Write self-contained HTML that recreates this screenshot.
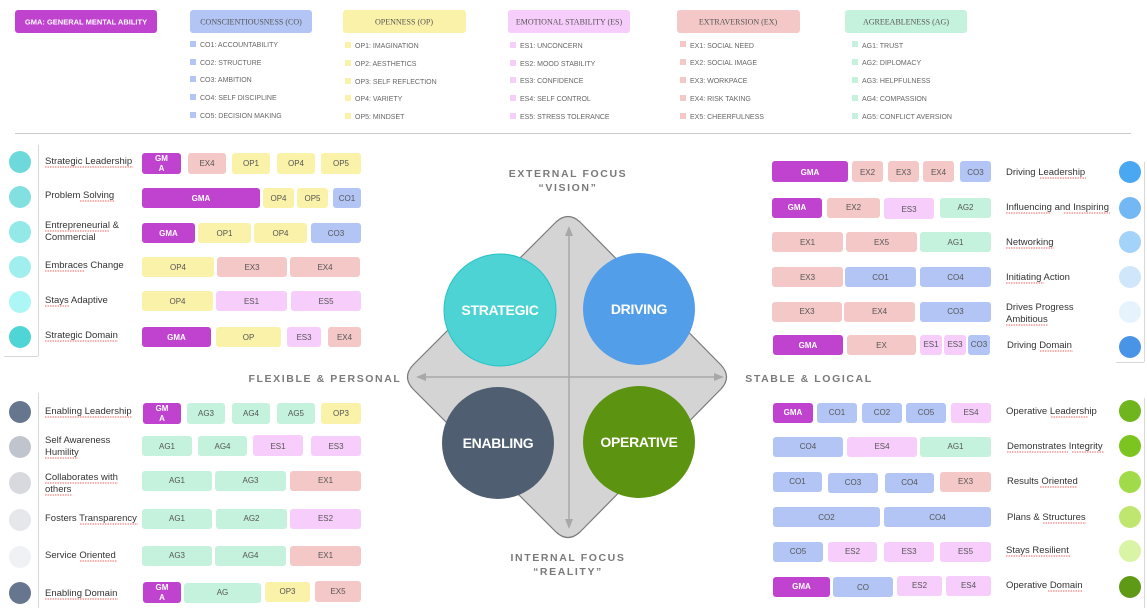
<!DOCTYPE html>
<html><head><meta charset="utf-8"><style>
html,body{margin:0;padding:0;background:#fff;}
svg{display:block;font-family:"Liberation Sans",Arial,sans-serif;}
.p{font-size:8px;fill:#555;text-anchor:middle;}
.g{font-size:8px;fill:#fff;text-anchor:middle;font-weight:bold;}
.lb{font-size:9.5px;fill:#333;}
.lg{font-size:7px;fill:#666;}
.hd{font-family:"Liberation Serif",serif;font-size:8px;fill:#555;text-anchor:middle;}
.ax{font-size:10.5px;fill:#7a7a7a;font-weight:bold;letter-spacing:1.6px;text-anchor:middle;}
.ct{font-size:14px;fill:#fff;font-weight:bold;text-anchor:middle;letter-spacing:-0.3px;}
.u{stroke:#e33;stroke-width:0.8;stroke-dasharray:1.5 1;fill:none;}
</style></head><body>
<svg width="1147" height="612" viewBox="0 0 1147 612">
<rect x="15" y="10" width="142" height="23" rx="3" fill="#c043d0"/><text x="86" y="24.5" class="g" style="font-size:7.5px">GMA:  GENERAL  MENTAL ABILITY</text>
<rect x="190" y="10" width="122" height="23" rx="3" fill="#b3c5f5"/><text x="251" y="24.5" class="hd">CONSCIENTIOUSNESS (CO)</text>
<rect x="343" y="10" width="123" height="23" rx="3" fill="#faf2a8"/><text x="404" y="24.5" class="hd">OPENNESS (OP)</text>
<rect x="508" y="10" width="122" height="23" rx="3" fill="#f7cdfb"/><text x="569" y="24.5" class="hd">EMOTIONAL STABILITY (ES)</text>
<rect x="677" y="10" width="123" height="23" rx="3" fill="#f5c8c8"/><text x="738" y="24.5" class="hd">EXTRAVERSION (EX)</text>
<rect x="845" y="10" width="122" height="23" rx="3" fill="#c5f2dc"/><text x="906" y="24.5" class="hd">AGREEABLENESS (AG)</text>
<g>
<rect x="190" y="41" width="6" height="6" fill="#b3c5f5"/><text x="200" y="47" class="lg">CO1: ACCOUNTABILITY</text>
<rect x="190" y="59" width="6" height="6" fill="#b3c5f5"/><text x="200" y="65" class="lg">CO2: STRUCTURE</text>
<rect x="190" y="76" width="6" height="6" fill="#b3c5f5"/><text x="200" y="82" class="lg">CO3: AMBITION</text>
<rect x="190" y="94" width="6" height="6" fill="#b3c5f5"/><text x="200" y="100" class="lg">CO4: SELF DISCIPLINE</text>
<rect x="190" y="112" width="6" height="6" fill="#b3c5f5"/><text x="200" y="118" class="lg">CO5: DECISION MAKING</text>
<rect x="345" y="42" width="6" height="6" fill="#faf2a8"/><text x="355" y="48" class="lg">OP1: IMAGINATION</text>
<rect x="345" y="60" width="6" height="6" fill="#faf2a8"/><text x="355" y="66" class="lg">OP2: AESTHETICS</text>
<rect x="345" y="78" width="6" height="6" fill="#faf2a8"/><text x="355" y="84" class="lg">OP3: SELF REFLECTION</text>
<rect x="345" y="95" width="6" height="6" fill="#faf2a8"/><text x="355" y="101" class="lg">OP4: VARIETY</text>
<rect x="345" y="113" width="6" height="6" fill="#faf2a8"/><text x="355" y="119" class="lg">OP5: MINDSET</text>
<rect x="510" y="42" width="6" height="6" fill="#f7cdfb"/><text x="520" y="48" class="lg">ES1: UNCONCERN</text>
<rect x="510" y="60" width="6" height="6" fill="#f7cdfb"/><text x="520" y="66" class="lg">ES2: MOOD STABILITY</text>
<rect x="510" y="77" width="6" height="6" fill="#f7cdfb"/><text x="520" y="83" class="lg">ES3: CONFIDENCE</text>
<rect x="510" y="95" width="6" height="6" fill="#f7cdfb"/><text x="520" y="101" class="lg">ES4: SELF CONTROL</text>
<rect x="510" y="113" width="6" height="6" fill="#f7cdfb"/><text x="520" y="119" class="lg">ES5: STRESS TOLERANCE</text>
<rect x="680" y="41" width="6" height="6" fill="#f5c8c8"/><text x="690" y="48" class="lg">EX1: SOCIAL NEED</text>
<rect x="680" y="59" width="6" height="6" fill="#f5c8c8"/><text x="690" y="65" class="lg">EX2: SOCIAL IMAGE</text>
<rect x="680" y="77" width="6" height="6" fill="#f5c8c8"/><text x="690" y="83" class="lg">EX3: WORKPACE</text>
<rect x="680" y="95" width="6" height="6" fill="#f5c8c8"/><text x="690" y="101" class="lg">EX4: RISK TAKING</text>
<rect x="680" y="113" width="6" height="6" fill="#f5c8c8"/><text x="690" y="119" class="lg">EX5: CHEERFULNESS</text>
<rect x="852" y="41" width="6" height="6" fill="#c5f2dc"/><text x="862" y="48" class="lg">AG1: TRUST</text>
<rect x="852" y="59" width="6" height="6" fill="#c5f2dc"/><text x="862" y="65" class="lg">AG2: DIPLOMACY</text>
<rect x="852" y="77" width="6" height="6" fill="#c5f2dc"/><text x="862" y="83" class="lg">AG3: HELPFULNESS</text>
<rect x="852" y="95" width="6" height="6" fill="#c5f2dc"/><text x="862" y="101" class="lg">AG4: COMPASSION</text>
<rect x="852" y="113" width="6" height="6" fill="#c5f2dc"/><text x="862" y="119" class="lg">AG5: CONFLICT AVERSION</text>
</g>
<line x1="15" y1="133.5" x2="1131" y2="133.5" stroke="#ccc" stroke-width="1"/>

<line x1="38.5" y1="145" x2="38.5" y2="356" stroke="#d8d8d8"/>
<line x1="4" y1="356.5" x2="38" y2="356.5" stroke="#d8d8d8"/>
<line x1="38.5" y1="393" x2="38.5" y2="608" stroke="#d8d8d8"/>
<line x1="1144.5" y1="162" x2="1144.5" y2="362" stroke="#d8d8d8"/>
<line x1="1116" y1="362.5" x2="1144" y2="362.5" stroke="#d8d8d8"/>
<line x1="1144.5" y1="398" x2="1144.5" y2="608" stroke="#d8d8d8"/>

<circle cx="20" cy="162" r="11" fill="#6dd9da"/>
<circle cx="20" cy="197" r="11" fill="#82e0e0"/>
<circle cx="20" cy="232" r="11" fill="#93e8e8"/>
<circle cx="20" cy="267" r="11" fill="#a0eeee"/>
<circle cx="20" cy="302" r="11" fill="#acf6f6"/>
<circle cx="20" cy="337" r="11" fill="#4fd5d5"/>
<text x="45" y="164" class="lb">Strategic Leadership</text><path class="u" d="M45 167h88"/>
<text x="45" y="198" class="lb">Problem Solving</text><path class="u" d="M80 201h35"/>
<text x="45" y="228" class="lb">Entrepreneurial &amp;</text><path class="u" d="M45 231h65"/>
<text x="45" y="240" class="lb">Commercial</text>
<text x="45" y="268" class="lb">Embraces Change</text><path class="u" d="M45 271h40"/>
<text x="45" y="303" class="lb">Stays Adaptive</text><path class="u" d="M45 306h25"/>
<text x="45" y="338" class="lb">Strategic Domain</text><path class="u" d="M45 341h73"/>

<rect x="142" y="153" width="39" height="21" rx="3" fill="#c043d0"/><text x="161.5" y="161" class="g">GM</text><text x="161.5" y="171" class="g">A</text>
<rect x="188" y="153" width="38" height="21" rx="3" fill="#f5c8c8"/><text x="207" y="166" class="p">EX4</text>
<rect x="232" y="153" width="38" height="21" rx="3" fill="#faf2a8"/><text x="251" y="166" class="p">OP1</text>
<rect x="277" y="153" width="38" height="21" rx="3" fill="#faf2a8"/><text x="296" y="166" class="p">OP4</text>
<rect x="321" y="153" width="40" height="21" rx="3" fill="#faf2a8"/><text x="341" y="166" class="p">OP5</text>

<rect x="142" y="188" width="118" height="20" rx="3" fill="#c043d0"/><text x="201" y="201" class="g">GMA</text>
<rect x="263" y="188" width="31" height="20" rx="3" fill="#faf2a8"/><text x="278.5" y="201" class="p">OP4</text>
<rect x="297" y="188" width="31" height="20" rx="3" fill="#faf2a8"/><text x="312.5" y="201" class="p">OP5</text>
<rect x="333" y="188" width="28" height="20" rx="3" fill="#b3c5f5"/><text x="347" y="201" class="p">CO1</text>

<rect x="142" y="223" width="53" height="20" rx="3" fill="#c043d0"/><text x="168.5" y="236" class="g">GMA</text>
<rect x="198" y="223" width="53" height="20" rx="3" fill="#faf2a8"/><text x="224.5" y="236" class="p">OP1</text>
<rect x="254" y="223" width="53" height="20" rx="3" fill="#faf2a8"/><text x="280.5" y="236" class="p">OP4</text>
<rect x="311" y="223" width="50" height="20" rx="3" fill="#b3c5f5"/><text x="336" y="236" class="p">CO3</text>

<rect x="142" y="257" width="72" height="20" rx="3" fill="#faf2a8"/><text x="178" y="270" class="p">OP4</text>
<rect x="217" y="257" width="70" height="20" rx="3" fill="#f5c8c8"/><text x="252" y="270" class="p">EX3</text>
<rect x="290" y="257" width="70" height="20" rx="3" fill="#f5c8c8"/><text x="325" y="270" class="p">EX4</text>

<rect x="142" y="291" width="71" height="20" rx="3" fill="#faf2a8"/><text x="177.5" y="304" class="p">OP4</text>
<rect x="216" y="291" width="71" height="20" rx="3" fill="#f7cdfb"/><text x="251.5" y="304" class="p">ES1</text>
<rect x="291" y="291" width="70" height="20" rx="3" fill="#f7cdfb"/><text x="326" y="304" class="p">ES5</text>

<rect x="142" y="327" width="69" height="20" rx="3" fill="#c043d0"/><text x="176.5" y="340" class="g">GMA</text>
<rect x="216" y="327" width="65" height="20" rx="3" fill="#faf2a8"/><text x="248.5" y="340" class="p">OP</text>
<rect x="287" y="327" width="34" height="20" rx="3" fill="#f7cdfb"/><text x="304" y="340" class="p">ES3</text>
<rect x="328" y="327" width="33" height="20" rx="3" fill="#f5c8c8"/><text x="344.5" y="340" class="p">EX4</text>

<circle cx="20" cy="412" r="11" fill="#66768f"/>
<circle cx="20" cy="447" r="11" fill="#c0c4cc"/>
<circle cx="20" cy="483" r="11" fill="#d8d9de"/>
<circle cx="20" cy="520" r="11" fill="#e6e7ea"/>
<circle cx="20" cy="557" r="11" fill="#eff1f5"/>
<circle cx="20" cy="593" r="11" fill="#66768f"/>
<text x="45" y="414" class="lb">Enabling Leadership</text><path class="u" d="M45 417h87"/>
<text x="45" y="443" class="lb">Self Awareness</text>
<text x="45" y="455" class="lb">Humility</text><path class="u" d="M45 458h33"/>
<text x="45" y="480" class="lb">Collaborates with</text><path class="u" d="M45 483h73"/>
<text x="45" y="492" class="lb">others</text><path class="u" d="M45 495h27"/>
<text x="45" y="521" class="lb">Fosters Transparency</text><path class="u" d="M80 524h58"/>
<text x="45" y="558" class="lb">Service Oriented</text><path class="u" d="M80 561h37"/>
<text x="45" y="596" class="lb">Enabling Domain</text><path class="u" d="M45 599h73"/>

<rect x="143" y="403" width="38" height="21" rx="3" fill="#c043d0"/><text x="162" y="411" class="g">GM</text><text x="162" y="421" class="g">A</text>
<rect x="187" y="403" width="38" height="21" rx="3" fill="#c5f2dc"/><text x="206" y="416" class="p">AG3</text>
<rect x="232" y="403" width="38" height="21" rx="3" fill="#c5f2dc"/><text x="251" y="416" class="p">AG4</text>
<rect x="277" y="403" width="38" height="21" rx="3" fill="#c5f2dc"/><text x="296" y="416" class="p">AG5</text>
<rect x="321" y="403" width="40" height="21" rx="3" fill="#faf2a8"/><text x="341" y="416" class="p">OP3</text>

<rect x="142" y="436" width="50" height="20" rx="3" fill="#c5f2dc"/><text x="167" y="449" class="p">AG1</text>
<rect x="198" y="436" width="49" height="20" rx="3" fill="#c5f2dc"/><text x="222.5" y="449" class="p">AG4</text>
<rect x="253" y="435" width="50" height="21" rx="3" fill="#f7cdfb"/><text x="278" y="449" class="p">ES1</text>
<rect x="311" y="436" width="50" height="20" rx="3" fill="#f7cdfb"/><text x="336" y="449" class="p">ES3</text>

<rect x="142" y="471" width="70" height="20" rx="3" fill="#c5f2dc"/><text x="177" y="483" class="p">AG1</text>
<rect x="215" y="471" width="71" height="20" rx="3" fill="#c5f2dc"/><text x="250.5" y="483" class="p">AG3</text>
<rect x="290" y="471" width="71" height="20" rx="3" fill="#f5c8c8"/><text x="325.5" y="483" class="p">EX1</text>

<rect x="142" y="509" width="70" height="20" rx="3" fill="#c5f2dc"/><text x="177" y="521" class="p">AG1</text>
<rect x="216" y="509" width="71" height="20" rx="3" fill="#c5f2dc"/><text x="251.5" y="521" class="p">AG2</text>
<rect x="290" y="509" width="71" height="20" rx="3" fill="#f7cdfb"/><text x="325.5" y="521" class="p">ES2</text>

<rect x="142" y="546" width="70" height="20" rx="3" fill="#c5f2dc"/><text x="177" y="558" class="p">AG3</text>
<rect x="215" y="546" width="71" height="20" rx="3" fill="#c5f2dc"/><text x="250.5" y="558" class="p">AG4</text>
<rect x="290" y="546" width="71" height="20" rx="3" fill="#f5c8c8"/><text x="325.5" y="558" class="p">EX1</text>

<rect x="143" y="582" width="38" height="21" rx="3" fill="#c043d0"/><text x="162" y="590" class="g">GM</text><text x="162" y="600" class="g">A</text>
<rect x="184" y="583" width="77" height="20" rx="3" fill="#c5f2dc"/><text x="222.5" y="595" class="p">AG</text>
<rect x="265" y="582" width="45" height="20" rx="3" fill="#faf2a8"/><text x="287.5" y="594" class="p">OP3</text>
<rect x="315" y="581" width="46" height="21" rx="3" fill="#f5c8c8"/><text x="338" y="594" class="p">EX5</text>

<circle cx="1130" cy="172" r="11" fill="#4aa8f3"/>
<circle cx="1130" cy="208" r="11" fill="#73b8f5"/>
<circle cx="1130" cy="242" r="11" fill="#a4d3fa"/>
<circle cx="1130" cy="277" r="11" fill="#cfe6fb"/>
<circle cx="1130" cy="312" r="11" fill="#e6f3fd"/>
<circle cx="1130" cy="347" r="11" fill="#4a94e8"/>
<text x="1006" y="175" class="lb">Driving Leadership</text><path class="u" d="M1040 178h46"/>
<text x="1006" y="210" class="lb">Influencing and Inspiring</text><path class="u" d="M1006 213h44M1064 213h46"/>
<text x="1006" y="245" class="lb">Networking</text><path class="u" d="M1006 248h48"/>
<text x="1006" y="280" class="lb">Initiating Action</text><path class="u" d="M1006 283h38"/>
<text x="1006" y="310" class="lb">Drives Progress</text>
<text x="1006" y="322" class="lb">Ambitious</text><path class="u" d="M1006 325h42"/>
<text x="1007" y="348" class="lb">Driving Domain</text><path class="u" d="M1040 351h33"/>

<rect x="772" y="161" width="76" height="21" rx="3" fill="#c043d0"/><text x="810" y="175" class="g">GMA</text>
<rect x="852" y="161" width="31" height="21" rx="3" fill="#f5c8c8"/><text x="867.5" y="175" class="p">EX2</text>
<rect x="888" y="161" width="31" height="21" rx="3" fill="#f5c8c8"/><text x="903.5" y="175" class="p">EX3</text>
<rect x="923" y="161" width="31" height="21" rx="3" fill="#f5c8c8"/><text x="938.5" y="175" class="p">EX4</text>
<rect x="960" y="161" width="31" height="21" rx="3" fill="#b3c5f5"/><text x="975.5" y="175" class="p">CO3</text>

<rect x="772" y="198" width="50" height="20" rx="3" fill="#c043d0"/><text x="797" y="210" class="g">GMA</text>
<rect x="827" y="198" width="53" height="20" rx="3" fill="#f5c8c8"/><text x="853.5" y="210" class="p">EX2</text>
<rect x="884" y="198" width="50" height="21" rx="3" fill="#f7cdfb"/><text x="909" y="212" class="p">ES3</text>
<rect x="940" y="198" width="51" height="20" rx="3" fill="#c5f2dc"/><text x="965.5" y="210" class="p">AG2</text>

<rect x="772" y="232" width="71" height="20" rx="3" fill="#f5c8c8"/><text x="807.5" y="245" class="p">EX1</text>
<rect x="846" y="232" width="71" height="20" rx="3" fill="#f5c8c8"/><text x="881.5" y="245" class="p">EX5</text>
<rect x="920" y="232" width="71" height="20" rx="3" fill="#c5f2dc"/><text x="955.5" y="245" class="p">AG1</text>

<rect x="772" y="267" width="71" height="20" rx="3" fill="#f5c8c8"/><text x="807.5" y="280" class="p">EX3</text>
<rect x="845" y="267" width="71" height="20" rx="3" fill="#b3c5f5"/><text x="880.5" y="280" class="p">CO1</text>
<rect x="920" y="267" width="71" height="20" rx="3" fill="#b3c5f5"/><text x="955.5" y="280" class="p">CO4</text>

<rect x="772" y="302" width="70" height="20" rx="3" fill="#f5c8c8"/><text x="807" y="314" class="p">EX3</text>
<rect x="844" y="302" width="71" height="20" rx="3" fill="#f5c8c8"/><text x="879.5" y="314" class="p">EX4</text>
<rect x="920" y="302" width="71" height="20" rx="3" fill="#b3c5f5"/><text x="955.5" y="314" class="p">CO3</text>

<rect x="773" y="335" width="70" height="20" rx="3" fill="#c043d0"/><text x="808" y="348" class="g">GMA</text>
<rect x="847" y="335" width="69" height="20" rx="3" fill="#f5c8c8"/><text x="881.5" y="348" class="p">EX</text>
<rect x="920" y="335" width="22" height="20" rx="3" fill="#f7cdfb"/><text x="931" y="347" class="p">ES1</text>
<rect x="944" y="335" width="22" height="20" rx="3" fill="#f7cdfb"/><text x="955" y="347" class="p">ES3</text>
<rect x="968" y="335" width="22" height="20" rx="3" fill="#b3c5f5"/><text x="979" y="347" class="p">CO3</text>

<circle cx="1130" cy="411" r="11" fill="#6fb51e"/>
<circle cx="1130" cy="446" r="11" fill="#7cc41f"/>
<circle cx="1130" cy="482" r="11" fill="#a1db4a"/>
<circle cx="1130" cy="517" r="11" fill="#bfe770"/>
<circle cx="1130" cy="551" r="11" fill="#d9f4a5"/>
<circle cx="1130" cy="587" r="11" fill="#5e9a16"/>
<text x="1006" y="414" class="lb">Operative Leadership</text><path class="u" d="M1051 417h37"/>
<text x="1007" y="449" class="lb">Demonstrates Integrity</text><path class="u" d="M1007 452h61M1072 452h32"/>
<text x="1007" y="484" class="lb">Results Oriented</text><path class="u" d="M1040 487h37"/>
<text x="1007" y="520" class="lb">Plans &amp; Structures</text><path class="u" d="M1043 523h43"/>
<text x="1006" y="553" class="lb">Stays Resilient</text><path class="u" d="M1006 556h65"/>
<text x="1006" y="588" class="lb">Operative Domain</text><path class="u" d="M1048 591h35"/>

<rect x="773" y="403" width="40" height="20" rx="3" fill="#c043d0"/><text x="793" y="415" class="g">GMA</text>
<rect x="817" y="403" width="40" height="20" rx="3" fill="#b3c5f5"/><text x="837" y="415" class="p">CO1</text>
<rect x="862" y="403" width="40" height="20" rx="3" fill="#b3c5f5"/><text x="882" y="415" class="p">CO2</text>
<rect x="906" y="403" width="40" height="20" rx="3" fill="#b3c5f5"/><text x="926" y="415" class="p">CO5</text>
<rect x="951" y="403" width="40" height="20" rx="3" fill="#f7cdfb"/><text x="971" y="415" class="p">ES4</text>

<rect x="773" y="437" width="70" height="20" rx="3" fill="#b3c5f5"/><text x="808" y="449" class="p">CO4</text>
<rect x="847" y="437" width="70" height="20" rx="3" fill="#f7cdfb"/><text x="882" y="449" class="p">ES4</text>
<rect x="920" y="437" width="71" height="20" rx="3" fill="#c5f2dc"/><text x="955.5" y="449" class="p">AG1</text>

<rect x="773" y="472" width="49" height="20" rx="3" fill="#b3c5f5"/><text x="797.5" y="484" class="p">CO1</text>
<rect x="828" y="473" width="50" height="20" rx="3" fill="#b3c5f5"/><text x="853" y="485" class="p">CO3</text>
<rect x="885" y="473" width="49" height="20" rx="3" fill="#b3c5f5"/><text x="909.5" y="485" class="p">CO4</text>
<rect x="940" y="472" width="51" height="20" rx="3" fill="#f5c8c8"/><text x="965.5" y="484" class="p">EX3</text>

<rect x="773" y="507" width="107" height="20" rx="3" fill="#b3c5f5"/><text x="826.5" y="520" class="p">CO2</text>
<rect x="884" y="507" width="107" height="20" rx="3" fill="#b3c5f5"/><text x="937.5" y="520" class="p">CO4</text>

<rect x="773" y="542" width="50" height="20" rx="3" fill="#b3c5f5"/><text x="798" y="554" class="p">CO5</text>
<rect x="828" y="542" width="49" height="20" rx="3" fill="#f7cdfb"/><text x="852.5" y="554" class="p">ES2</text>
<rect x="884" y="542" width="50" height="20" rx="3" fill="#f7cdfb"/><text x="909" y="554" class="p">ES3</text>
<rect x="940" y="542" width="51" height="20" rx="3" fill="#f7cdfb"/><text x="965.5" y="554" class="p">ES5</text>

<rect x="773" y="577" width="57" height="20" rx="3" fill="#c043d0"/><text x="801.5" y="589" class="g">GMA</text>
<rect x="833" y="577" width="60" height="20" rx="3" fill="#b3c5f5"/><text x="863" y="590" class="p">CO</text>
<rect x="897" y="576" width="45" height="20" rx="3" fill="#f7cdfb"/><text x="919.5" y="588" class="p">ES2</text>
<rect x="946" y="576" width="45" height="20" rx="3" fill="#f7cdfb"/><text x="968.5" y="588" class="p">ES4</text>

<text x="568" y="177" class="ax">EXTERNAL FOCUS</text>
<text x="568" y="191" class="ax">“VISION”</text>
<text x="568" y="561" class="ax">INTERNAL FOCUS</text>
<text x="568" y="575" class="ax">“REALITY”</text>
<text x="325" y="382" class="ax">FLEXIBLE &amp; PERSONAL</text>
<text x="809" y="382" class="ax">STABLE &amp; LOGICAL</text>

<path d="M556 222 Q568 211 580 222 L721 365 Q732 377 721 389 L580 532 Q568 543 556 532 L413 389 Q402 377 413 365 Z" fill="#d4d4d4" stroke="#7a7a7a" stroke-width="1.2"/>
<g stroke="#a8a8a8" stroke-width="1.5" fill="#a8a8a8">
<line x1="569" y1="232" x2="569" y2="522"/>
<line x1="420" y1="377" x2="720" y2="377"/>
<polygon points="569,226 565,236 573,236" stroke="none"/>
<polygon points="569,529 565,519 573,519" stroke="none"/>
<polygon points="416,377 426,373 426,381" stroke="none"/>
<polygon points="724,377 714,373 714,381" stroke="none"/>
</g>
<circle cx="500" cy="310" r="56" fill="#4dd3d3" stroke="#22c3c8" stroke-width="1"/>
<circle cx="639" cy="309" r="56" fill="#529ee9"/>
<circle cx="498" cy="443" r="56" fill="#505e72"/>
<circle cx="639" cy="442" r="56" fill="#5c9310"/>
<text x="500" y="315" class="ct">STRATEGIC</text>
<text x="639" y="314" class="ct">DRIVING</text>
<text x="498" y="448" class="ct">ENABLING</text>
<text x="639" y="447" class="ct">OPERATIVE</text>
</svg>
</body></html>
